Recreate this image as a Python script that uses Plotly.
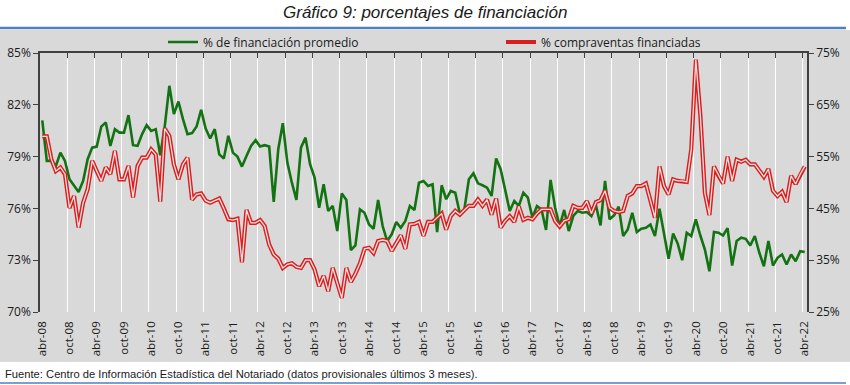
import plotly.graph_objects as go

# Monthly series, abr-08 .. abr-22 (169 months)
financiacion_promedio = [
    81.1, 78.75, 78.75, 78.46, 79.23, 78.75, 77.69, 77.30, 76.95, 77.59,
    78.85, 79.52, 79.58, 80.74, 80.98, 79.62, 80.59, 80.39, 80.39, 81.40,
    79.66, 79.62, 80.30, 80.82, 80.49, 80.59, 79.08, 80.78, 83.10, 81.46,
    82.19, 81.17, 80.30, 80.36, 80.74, 81.71, 80.63, 80.05, 80.59, 79.13,
    78.89, 80.20, 79.23, 79.00, 78.42, 79.04, 79.62, 79.95, 79.58, 79.66,
    79.58, 76.37, 79.43, 80.94, 78.65, 77.49, 76.49, 79.52, 80.10, 78.56,
    77.78, 76.04, 77.40, 75.85, 76.14, 74.69, 76.87, 76.49, 73.58, 73.85,
    75.94, 75.75, 75.07, 74.82, 76.49, 74.98, 74.11, 74.50, 75.21, 74.88,
    75.27, 76.14, 75.91, 77.49, 77.59, 77.30, 77.40, 74.63, 77.34, 76.53,
    77.01, 76.91, 75.71, 75.94, 77.69, 78.03, 77.45, 77.34, 77.20, 76.72,
    78.89, 78.27, 77.01, 75.85, 76.43, 76.14, 76.91, 76.62, 75.46, 76.14,
    75.94, 74.75, 77.65, 76.04, 74.98, 75.91, 74.69, 75.56, 75.85, 75.75,
    75.79, 75.56, 76.18, 75.01, 77.59, 75.37, 75.60, 76.10, 74.40, 74.78,
    75.75, 74.63, 74.82, 74.88, 75.07, 74.40, 75.98, 74.59, 73.08, 74.55,
    73.97, 73.00, 74.59, 74.40, 75.36, 74.43, 73.62, 72.36, 74.63, 74.59,
    74.43, 74.86, 72.69, 74.11, 74.30, 74.24, 73.85, 74.40, 73.43, 72.65,
    74.11, 72.69, 73.14, 73.33, 72.75, 73.33, 72.94, 73.52, 73.47,
]

compraventas_financiadas = [
    58.9, 58.9, 54.5, 52.2, 52.9, 51.6, 45.1, 47.4, 41.3, 46.1,
    48.7, 54.2, 52.2, 50.3, 52.9, 51.6, 56.1, 50.6, 50.6, 53.2,
    47.1, 53.2, 54.8, 54.8, 56.4, 55.4, 46.3, 60.4, 59.0, 53.5,
    50.6, 53.5, 54.8, 46.7, 47.7, 47.9, 46.5, 46.1, 46.5, 46.9,
    45.0, 42.9, 42.75, 43.0, 34.6, 44.7, 42.2, 42.2, 42.75, 41.6,
    38.0, 36.1, 35.3, 33.5, 34.2, 34.4, 33.7, 33.5, 35.0, 35.0,
    33.2, 30.0, 32.0, 29.0, 33.5, 30.8, 27.7, 33.5, 30.8, 32.4,
    34.4, 37.2, 37.4, 36.4, 38.7, 38.9, 38.7, 36.8, 38.4, 39.8,
    37.2, 41.9, 42.0, 42.4, 39.7, 42.4, 42.4, 43.2, 44.0, 40.9,
    43.5, 44.5, 43.8, 44.7, 45.5, 45.5, 46.7, 45.5, 46.7, 43.8,
    46.9, 41.3, 42.6, 43.5, 42.4, 45.4, 42.8, 43.2, 42.9, 44.0,
    44.8, 44.8, 44.8, 42.6, 41.5, 42.6, 42.9, 45.5, 45.1, 45.1,
    46.4, 44.0, 46.2, 46.6, 48.4, 45.1, 44.5, 44.3, 44.5, 47.4,
    47.9, 49.3, 49.3, 49.8, 46.7, 43.2, 53.1, 49.3, 47.7, 50.6,
    50.3, 50.3, 50.1, 56.4, 73.7, 63.0, 48.0, 43.7, 53.1, 51.3,
    49.8, 55.0, 50.3, 54.4, 54.0, 54.4, 53.5, 53.5, 52.2, 51.1,
    52.6, 48.4, 47.4, 48.2, 46.2, 51.3, 49.7, 51.6, 53.1,
]

meses = ["ene", "feb", "mar", "abr", "may", "jun", "jul", "ago", "sep", "oct", "nov", "dic"]
periodos = []
for k in range(169):
    m = 3 + k
    periodos.append(f"{meses[m % 12]}-{(8 + m // 12):02d}")
idx = list(range(169))

tick_idx = list(range(0, 169, 6))
tick_labels = [periodos[i] for i in tick_idx]
grid_pos = [i - 0.5 for i in tick_idx]

left_ticks = [70, 73, 76, 79, 82, 85]
right_ticks = [25, 35, 45, 55, 65, 75]

# plot-area pixel geometry used to place decorations
L, R, T, B, W, H = 40, 807, 53, 312, 850, 385
pw, ph = R - L, B - T
def px(x):
    return (x - L) / pw
def py(y):
    return (B - y) / ph

GRAY = "#D9D9D9"
AXC = "#404040"
TXT = "#1a1a1a"
FONT = "Open Sans"

fig = go.Figure()
fig.add_trace(go.Scatter(
    x=idx, y=financiacion_promedio, mode="lines", name="% de financiación promedio",
    line=dict(color="#137313", width=2.6), xaxis="x", yaxis="y",
))
fig.add_trace(go.Scatter(
    x=idx, y=compraventas_financiadas, mode="lines", name="% compraventas financiadas",
    line=dict(color="#D81E1E", width=4.2), xaxis="x", yaxis="y2",
))
fig.add_trace(go.Scatter(
    x=idx, y=compraventas_financiadas, mode="lines", showlegend=False, hoverinfo="skip",
    line=dict(color="#FBE3E3", width=1.3), xaxis="x2", yaxis="y2",
))

fig.update_layout(
    width=W, height=H,
    margin=dict(l=L, r=W - R, t=T, b=H - B, pad=0, autoexpand=False),
    paper_bgcolor="white", plot_bgcolor=GRAY,
    font=dict(family=FONT, color=TXT, size=12),
    xaxis=dict(
        range=[-0.5, 168.5], tickmode="array", tickvals=tick_idx, ticktext=tick_labels,
        tickangle=-90, showgrid=False, zeroline=False, showline=False, ticks="",
        ticklabelstandoff=6,
        tickfont=dict(size=11.5, family=FONT, color=TXT), fixedrange=True,
    ),
    xaxis2=dict(
        overlaying="x", side="top", anchor="y", range=[-0.5, 168.5],
        tickmode="array", tickvals=grid_pos, showticklabels=False,
        showgrid=True, gridcolor="white", gridwidth=1.2, zeroline=False,
        showline=True, linecolor=AXC, linewidth=1.5, ticks="inside", ticklen=5,
        tickcolor=AXC, tickwidth=1, fixedrange=True,
    ),
    yaxis=dict(
        range=[70, 85], tickmode="array", tickvals=left_ticks,
        ticktext=[f"{v}%" for v in left_ticks], showgrid=False, zeroline=False,
        showline=True, linecolor=AXC, linewidth=1.5, ticks="outside", ticklen=5,
        tickcolor=AXC, tickfont=dict(size=12, family=FONT, color=TXT), fixedrange=True,
    ),
    yaxis2=dict(
        range=[25, 75], overlaying="y", side="right", anchor="x", tickmode="array",
        tickvals=right_ticks, ticktext=[f"{v}%" for v in right_ticks],
        showgrid=False, zeroline=False, showline=True, linecolor=AXC, linewidth=1.5,
        ticks="outside", ticklen=5, tickcolor=AXC,
        tickfont=dict(size=12, family=FONT, color=TXT), fixedrange=True,
    ),
    yaxis3=dict(
        range=[70, 85], overlaying="y", side="left", tickmode="array",
        tickvals=[73, 76, 79, 82], showticklabels=False, showgrid=True,
        gridcolor="white", gridwidth=1.5, zeroline=False, showline=False, ticks="",
        fixedrange=True,
    ),
    legend=dict(
        orientation="h", x=px(163), xanchor="left", y=py(42), yanchor="middle",
        entrywidth=293, entrywidthmode="pixels", bgcolor="rgba(0,0,0,0)",
        font=dict(size=12, family=FONT, color=TXT), itemwidth=30, tracegroupgap=0,
    ),
    showlegend=True,
    shapes=[
        dict(type="rect", xref="paper", yref="paper", x0=px(0), x1=px(850),
             y0=py(362), y1=py(30), fillcolor=GRAY, line=dict(width=0), layer="below"),
        dict(type="line", xref="paper", yref="paper", x0=px(0), x1=px(846),
             y0=py(28), y1=py(28), line=dict(color="#4F81BD", width=2.5)),
        dict(type="line", xref="paper", yref="paper", x0=px(0), x1=px(846),
             y0=py(383), y1=py(383), line=dict(color="#4F81BD", width=1.5)),
    ],
    annotations=[
        dict(text="<i>Gráfico 9: porcentajes de financiación</i>", xref="paper", yref="paper",
             x=px(425), y=py(12), xanchor="center", yanchor="middle", showarrow=False,
             font=dict(family="Liberation Sans Narrow, Liberation Sans", size=17, color=TXT)),
        dict(text="Fuente: Centro de Información Estadística del Notariado (datos provisionales últimos 3 meses).",
             xref="paper", yref="paper", x=px(3), y=py(374), xanchor="left", yanchor="middle",
             showarrow=False, font=dict(family="Liberation Sans", size=11.2, color=TXT)),
    ],
)

fig.write_html(
    "out.html",
    config={"displayModeBar": False},
    post_script="document.body.style.margin='0px';document.body.style.overflow='hidden';",
)
